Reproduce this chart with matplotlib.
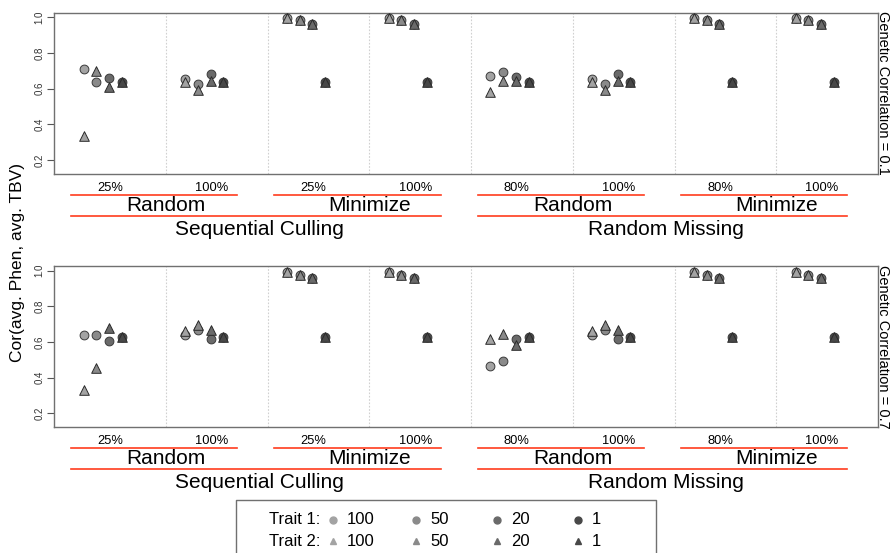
import matplotlib
matplotlib.use("Agg")
import matplotlib.pyplot as plt
import matplotlib.transforms as mtransforms
import numpy as np

plt.rcParams['font.family'] = ['Liberation Sans', 'DejaVu Sans']

# trait sizes (legend order) and the 8 scenario groups along x
levels = ['100', '50', '20', '1']
pct_labels = ['25%', '100%', '25%', '100%', '80%', '100%', '80%', '100%']
method_labels = ['Random', 'Minimize', 'Random', 'Minimize']
scenario_labels = ['Sequential Culling', 'Random Missing']
panel_labels = ['Genetic Correlation = 0.1', 'Genetic Correlation = 0.7']

# correlations, rows = groups, columns = levels (100, 50, 20, 1)
trait1_gc01 = [
    [0.71, 0.64, 0.66, 0.635],
    [0.655, 0.626, 0.68, 0.635],
    [0.995, 0.985, 0.965, 0.635],
    [0.995, 0.985, 0.965, 0.635],
    [0.673, 0.695, 0.667, 0.635],
    [0.655, 0.626, 0.68, 0.635],
    [0.995, 0.985, 0.965, 0.635],
    [0.995, 0.985, 0.965, 0.635],
]
trait2_gc01 = [
    [0.335, 0.70, 0.61, 0.635],
    [0.635, 0.59, 0.645, 0.635],
    [0.995, 0.985, 0.965, 0.635],
    [0.995, 0.985, 0.965, 0.635],
    [0.58, 0.643, 0.643, 0.635],
    [0.635, 0.59, 0.645, 0.635],
    [0.995, 0.985, 0.965, 0.635],
    [0.995, 0.985, 0.965, 0.635],
]
trait1_gc07 = [
    [0.637, 0.64, 0.604, 0.628],
    [0.64, 0.665, 0.617, 0.628],
    [0.99, 0.977, 0.958, 0.628],
    [0.99, 0.977, 0.958, 0.628],
    [0.467, 0.495, 0.618, 0.628],
    [0.64, 0.665, 0.617, 0.628],
    [0.99, 0.977, 0.958, 0.628],
    [0.99, 0.977, 0.958, 0.628],
]
trait2_gc07 = [
    [0.33, 0.454, 0.68, 0.628],
    [0.66, 0.697, 0.665, 0.628],
    [0.99, 0.977, 0.958, 0.628],
    [0.99, 0.977, 0.958, 0.628],
    [0.618, 0.646, 0.585, 0.628],
    [0.66, 0.697, 0.665, 0.628],
    [0.99, 0.977, 0.958, 0.628],
    [0.99, 0.977, 0.958, 0.628],
]

greys = ['#a3a3a3', '#8a8a8a', '#6a6a6a', '#484848']
red = '#ff3c1e'

W, H = 890, 553
fig = plt.figure(figsize=(W / 100, H / 100), dpi=100)


def px_axes(left, top, right, bottom):
    return fig.add_axes([left / W, 1 - bottom / H, (right - left) / W, (bottom - top) / H])


panels = [(12.7, 174.0, trait1_gc01, trait2_gc01),
          (266.0, 427.3, trait1_gc07, trait2_gc07)]

for p, (top, bot, t1, t2) in enumerate(panels):
    ax = px_axes(54, top, 878, bot)
    ax.set_xlim(-0.1, 8.0)
    ax.set_ylim(0.122, 1.026)
    t1 = np.array(t1)
    t2 = np.array(t2)
    for g in range(1, 8):
        ax.axvline(g, color='#d0d0d0', lw=0.8, ls=(0, (1.5, 1.5)), zorder=0)
    for k in range(4):
        xs = np.arange(8) + 0.19 + 0.125 * k
        ax.scatter(xs, t1[:, k], s=40, marker='o', facecolor=greys[k],
                   edgecolor='#3a3a3a', linewidth=0.7, zorder=3 + k)
        ax.scatter(xs, t2[:, k], s=48, marker='^', facecolor=greys[k],
                   edgecolor='#2a2a2a', linewidth=0.7, zorder=3.5 + k)
    ax.set_xticks([])
    ax.set_yticks([0.2, 0.4, 0.6, 0.8, 1.0])
    ax.set_yticklabels(['0.2', '0.4', '0.6', '0.8', '1.0'], rotation=90,
                       va='center', fontsize=7, color='#333333')
    ax.tick_params(axis='y', length=5, width=0.8, color='#555555', pad=2)
    for s in ax.spines.values():
        s.set_color('#707070')
        s.set_linewidth(1.0)

    # annotation rows below the panel
    h = bot - top
    tr = mtransforms.blended_transform_factory(ax.transData, ax.transAxes)

    def yf(ypx):
        return (bot - ypx) / h

    for g in range(8):
        ax.text(g + 0.45, yf(bot + 14), pct_labels[g], transform=tr,
                ha='center', va='center', fontsize=9.3, clip_on=False)
    for m in range(4):
        x0 = 2 * m + 0.065
        ax.plot([x0, x0 + 1.635], [yf(bot + 20.5)] * 2, transform=tr,
                color=red, lw=1.2, clip_on=False)
        ax.text(2 * m + 1.0, yf(bot + 31.5), method_labels[m], transform=tr,
                ha='center', va='center', fontsize=15, clip_on=False)
    for s in range(2):
        x0 = 4 * s + 0.065
        ax.plot([x0, x0 + 3.635], [yf(bot + 42)] * 2, transform=tr,
                color=red, lw=1.2, clip_on=False)
        ax.text(4 * s + 1.92, yf(bot + 55.5), scenario_labels[s], transform=tr,
                ha='center', va='center', fontsize=15, clip_on=False)

    fig.text(883 / W, 1 - (top + bot) / 2 / H, panel_labels[p], rotation=-90,
             ha='center', va='center', fontsize=10.5)

fig.text(18 / W, 1 - 262 / H, 'Cor(avg. Phen, avg. TBV)', rotation=90,
         ha='center', va='center', fontsize=12.5)

# legend box at the bottom
lax = fig.add_axes([0, 0, 1, 1])
lax.set_xlim(0, W)
lax.set_ylim(H, 0)
lax.axis('off')
lax.plot([236, 236, 656, 656], [H + 5, 500, 500, H + 5], color='#707070', lw=1.0)
rows = [(520, 'Trait 1:', 'o'), (541, 'Trait 2:', '^')]
mx = [333, 416, 497, 578]
for ypx, lab, mk in rows:
    lax.text(320, ypx, lab, ha='right', va='center', fontsize=12)
    for k in range(4):
        lax.plot(mx[k], ypx, marker=mk, ms=5, color=greys[k], mec=greys[k])
        lax.text(mx[k] + 14, ypx, levels[k], ha='left', va='center', fontsize=12)

fig.savefig('out.png', dpi=100)
